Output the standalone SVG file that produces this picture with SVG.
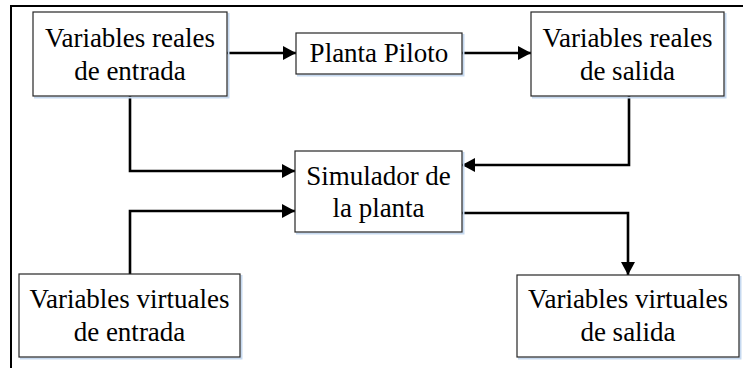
<svg xmlns="http://www.w3.org/2000/svg" width="743" height="368" viewBox="0 0 743 368">
<defs>
<style>
.box{fill:#ffffff;stroke:#262626;stroke-width:1.2}
.shadow{fill:none;stroke:#c6d9f0;stroke-width:2}
.lbl{font-family:'Liberation Serif','Times New Roman',serif;font-size:27px;fill:#000;text-anchor:middle}
.conn{fill:none;stroke:#000;stroke-width:2.6}
.frame{fill:none;stroke:#000;stroke-width:2}
</style>
<marker id="arr" markerUnits="userSpaceOnUse" markerWidth="14" markerHeight="14" viewBox="0 0 14 14" refX="13" refY="7" orient="auto">
<path d="M0,0 L13,7 L0,14 Z" fill="#000"/>
</marker>
</defs>
<rect width="743" height="368" fill="#ffffff"/>
<path class="frame" d="M11,368 V6 H743"/>

<g id="connectors">
<path class="conn" d="M227,53 H296" marker-end="url(#arr)"/>
<path class="conn" d="M462,53 H531" marker-end="url(#arr)"/>
<path class="conn" d="M130,96 V171 H295" marker-end="url(#arr)"/>
<path class="conn" d="M629,96 V165 H462" marker-end="url(#arr)"/>
<path class="conn" d="M130,274 V211 H295" marker-end="url(#arr)"/>
<path class="conn" d="M462,213 H628 V275" marker-end="url(#arr)"/>
</g>

<g id="n_reales_entrada">
<path class="shadow" d="M34,97.5 H228.5 V13"/>
<rect class="box" x="33" y="12" width="194" height="84"/>
<text class="lbl" x="130" y="46.5">Variables reales</text>
<text class="lbl" x="130" y="80">de entrada</text>
</g>

<g id="n_planta_piloto">
<path class="shadow" d="M297,75.5 H463.5 V34"/>
<rect class="box" x="296" y="33" width="166" height="41"/>
<text class="lbl" x="379" y="62">Planta Piloto</text>
</g>

<g id="n_reales_salida">
<path class="shadow" d="M532,97.5 H725.5 V13"/>
<rect class="box" x="531" y="12" width="193" height="84"/>
<text class="lbl" x="627.5" y="46.5">Variables reales</text>
<text class="lbl" x="627.5" y="80">de salida</text>
</g>

<g id="n_simulador">
<path class="shadow" d="M296,233.5 H463.5 V152"/>
<rect class="box" x="295" y="151" width="167" height="81"/>
<text class="lbl" x="378.5" y="184.5">Simulador de</text>
<text class="lbl" x="378.5" y="217">la planta</text>
</g>

<g id="n_virtuales_entrada">
<path class="shadow" d="M20,358.5 H241.5 V275"/>
<rect class="box" x="19" y="274" width="221" height="83"/>
<text class="lbl" x="129.5" y="308">Variables virtuales</text>
<text class="lbl" x="129.5" y="341">de entrada</text>
</g>

<g id="n_virtuales_salida">
<path class="shadow" d="M518,358.5 H740.5 V276"/>
<rect class="box" x="517" y="275" width="222" height="82"/>
<text class="lbl" x="628" y="308">Variables virtuales</text>
<text class="lbl" x="628" y="341">de salida</text>
</g>
</svg>
